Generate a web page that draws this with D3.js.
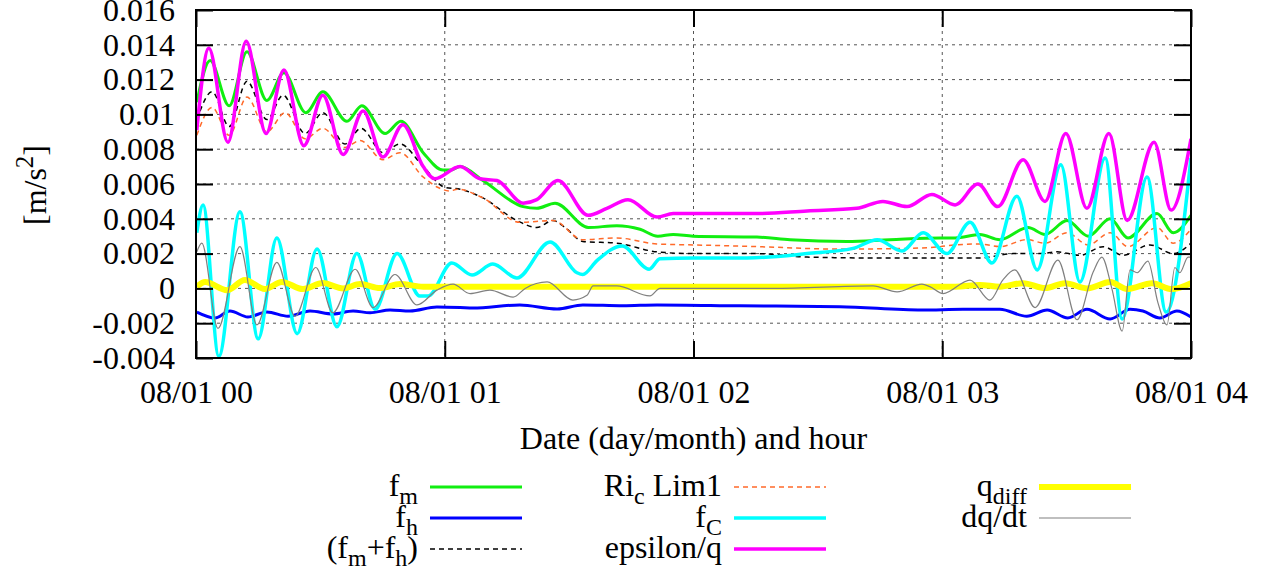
<!DOCTYPE html>
<html>
<head>
<meta charset="utf-8">
<script src="https://cdn.jsdelivr.net/npm/d3@7"></script>
<style>
  body { margin: 0; background: #fff; }
  text { font-family: "Liberation Serif", "Times New Roman", serif; fill: #000; }
</style>
</head>
<body>
<div id="chart"></div>
<script>
// each series: [minutes after 08/01 00:00, value in m/s^2]
var fm = [[0.2,0.0107],[3.4,0.0131],[8.0,0.0105],[12.3,0.0136],[17.1,0.0108],[21.2,0.0124],[26.5,0.0101],[30.6,0.0113],[36.4,0.0096],[40.0,0.0105],[45.6,0.0089],[49.4,0.0096],[54.8,0.0078],[59.6,0.0068],[61.3,0.0068],[63.7,0.0070],[69.2,0.0062],[78.9,0.0047],[82.2,0.0046],[86.6,0.0049],[94.6,0.0035],[101.5,0.0036],[107.1,0.0034],[111.4,0.0030],[115.1,0.0031],[119.9,0.0030],[135.3,0.00295],[143.3,0.0028],[157.0,0.0027],[167.4,0.0028],[179.5,0.0029],[183.1,0.0029],[189.1,0.0031],[193.9,0.0028],[200.7,0.0035],[204.8,0.0031],[210.1,0.0039],[215.2,0.0030],[220.5,0.0040],[224.8,0.0029],[231.8,0.0043],[235.7,0.0032],[240,0.0042]];
var fh = [[0.2,-0.00136],[4.6,-0.0017],[8.2,-0.0013],[12.5,-0.00164],[17.1,-0.00136],[22.2,-0.0016],[27.5,-0.0013],[33.0,-0.00147],[37.9,-0.0013],[42.0,-0.0014],[46.8,-0.00124],[51.6,-0.0013],[58.1,-0.00107],[63.7,-0.0011],[66.8,-0.00113],[78.1,-0.00095],[87.1,-0.00118],[93.3,-0.00095],[103.0,-0.001],[111.2,-0.00095],[131.2,-0.001],[155.3,-0.00105],[175.1,-0.00124],[185.0,-0.0012],[193.9,-0.0012],[200.4,-0.0016],[205.3,-0.00124],[210.3,-0.0017],[214.9,-0.0012],[220.5,-0.00176],[225.3,-0.0012],[228.4,-0.0013],[232.5,-0.0017],[236.6,-0.0013],[240,-0.00164]];
var fmPlusFh = [[0.2,0.0097],[3.9,0.0113],[8.0,0.0093],[12.3,0.0119],[17.1,0.0097],[21.0,0.0111],[26.3,0.0089],[30.6,0.0101],[35.9,0.0083],[39.8,0.0092],[45.1,0.0078],[49.2,0.0083],[54.8,0.0070],[60.1,0.0058],[63.7,0.0057],[69.2,0.0052],[77.4,0.0039],[82.2,0.0035],[86.1,0.0039],[89.0,0.0035],[93.3,0.0027],[101.5,0.0026],[111.2,0.0021],[119.9,0.0020],[135.3,0.0020],[147.4,0.0018],[163.3,0.00175],[179.5,0.00175],[189.1,0.00175],[197.1,0.0020],[203.6,0.0020],[207.7,0.0021],[213.2,0.0019],[218.8,0.0024],[223.6,0.0019],[230.1,0.0025],[235.7,0.0020],[240,0.0026]];
var ricLim1 = [[0.2,0.0088],[3.9,0.0104],[8.0,0.0088],[12.3,0.0110],[17.1,0.0090],[21.5,0.0101],[26.3,0.0086],[30.6,0.0092],[35.9,0.0081],[39.6,0.0085],[45.1,0.0074],[49.2,0.0078],[54.8,0.0064],[58.4,0.0058],[61.3,0.0056],[63.0,0.0057],[69.2,0.0052],[78.1,0.0038],[86.1,0.0039],[93.3,0.0028],[101.5,0.0029],[111.2,0.00255],[119.9,0.0025],[135.3,0.0024],[155.3,0.00226],[171.5,0.0023],[179.5,0.0024],[183.1,0.0025],[189.1,0.00255],[193.9,0.0024],[200.4,0.0028],[204.8,0.0026],[210.1,0.0032],[215.2,0.0025],[220.5,0.0032],[224.8,0.0024],[231.8,0.0035],[235.7,0.0026],[240,0.0034]];
var fC = [[0.2,0.0032],[1.7,0.0048],[5.5,-0.0039],[10.6,0.0044],[15.0,-0.0029],[19.5,0.0029],[24.4,-0.0026],[29.2,0.00226],[34.0,-0.0022],[38.8,0.0020],[43.2,-0.0012],[48.5,0.0020],[54.0,-0.00044],[56.0,-0.00044],[61.7,0.00146],[66.6,0.00077],[71.6,0.0014],[77.4,0.0006],[85.4,0.00267],[91.9,0.0009],[93.3,0.0008],[96.7,0.0016],[102.8,0.00244],[109.3,0.0011],[111.9,0.0017],[119.9,0.00175],[132.9,0.00175],[147.4,0.0020],[158.5,0.0023],[164.3,0.0028],[170.3,0.00215],[175.4,0.0032],[181.1,0.0020],[186.7,0.0038],[192.0,0.00146],[198.0,0.0053],[202.9,0.00106],[208.6,0.0071],[213.2,0.00037],[219.3,0.0075],[223.4,-0.00176],[229.4,0.0064],[234.0,-0.00136],[240,0.0075]];
var epsilonQ = [[0.2,0.0091],[3.1,0.0138],[7.7,0.0084],[12.1,0.0142],[16.9,0.0089],[21.2,0.01255],[26.0,0.0082],[30.6,0.0111],[35.5,0.0077],[40.3,0.0102],[45.1,0.00755],[49.9,0.0094],[54.8,0.0070],[57.6,0.0063],[63.7,0.0070],[68.5,0.0063],[72.6,0.0062],[78.9,0.0049],[82.2,0.0051],[87.3,0.0062],[94.6,0.0042],[99.1,0.0046],[104.2,0.0051],[111.2,0.0041],[115.1,0.0043],[119.9,0.0043],[135.3,0.0043],[147.4,0.00445],[159.4,0.0046],[165.7,0.0050],[171.5,0.0047],[177.5,0.0054],[183.1,0.0048],[188.6,0.0060],[193.4,0.0047],[199.5,0.0074],[204.8,0.0050],[209.8,0.0089],[214.9,0.0046],[220.2,0.0089],[224.6,0.0039],[231.1,0.0084],[235.2,0.0045],[240,0.0086]];
var qDiff = [[0.2,0.0001],[2.2,0.00037],[7.5,-0.0001],[11.8,0.00048],[16.6,-0.00004],[20.7,0.00037],[25.8,-0.00004],[30.6,0.00031],[35.5,0.0],[39.6,0.00025],[44.4,0.00002],[49.2,0.00025],[54.8,0.0001],[63.7,0.0001],[120,0.0001],[177,0.0001],[183.1,0.0001],[189.1,0.0002],[193.9,0.0001],[199.5,0.0003],[204.8,0.00002],[209.6,0.0003],[214.9,0.0],[220.5,0.00037],[224.6,-0.00004],[230.6,0.0003],[235.4,-0.00004],[240,0.0003]];
var dqdt = [[0.2,0.0021],[1.4,0.0026],[5.3,-0.0023],[10.6,0.0024],[14.7,-0.0021],[19.5,0.0015],[23.9,-0.0016],[28.9,0.0012],[33.0,-0.0014],[38.4,0.0011],[42.7,-0.0011],[48.0,0.0008],[53.3,-0.00095],[58.1,-0.0001],[62.0,0.00025],[66.1,-0.0003],[70.9,-0.0001],[76.5,-0.0005],[79.4,0.0],[84.7,0.00037],[90.9,-0.00067],[94.3,-0.0004],[95.8,0.00014],[101.5,0.00014],[109.5,-0.00043],[111.9,0.0],[119.9,0.0],[139.2,0.0],[163.3,0.00014],[169.1,-0.0002],[175.1,0.00025],[177,0.0001],[180.2,-0.0003],[186.7,0.00048],[191.5,-0.00067],[194.6,0.00048],[197.5,0.00106],[202.4,-0.0011],[207.9,0.00163],[212.5,-0.0018],[216.4,0.00094],[218.5,0.0018],[220.9,0.0],[223.4,-0.00245],[225.3,0.00106],[227.0,0.0009],[229.6,0.00157],[232.0,-0.0008],[234.2,-0.0021],[236.1,0.0012],[237.3,0.0009],[239.3,0.0018],[240,0.0018]];

var yTickValues = [-0.004, -0.002, 0, 0.002, 0.004, 0.006, 0.008, 0.01, 0.012, 0.014, 0.016];
var xTickHours = [0, 1, 2, 3, 4];

// legend order, column by column (gnuplot key)
var legendLabels = ["f_m", "f_h", "(f_m+f_h)", "Ri_c Lim1", "f_C", "epsilon/q", "q_diff", "dq/dt"];

var width = 1261, height = 573;
var mL = 196, mR = 1191, mT = 10, mB = 358;

var svg = d3.select("#chart").append("svg")
    .attr("width", width)
    .attr("height", height);

var t0 = new Date(2000, 7, 1, 0, 0);
function toDate(m) { return new Date(t0.getTime() + m * 60000); }

var x = d3.scaleTime().domain([toDate(0), toDate(240)]).range([mL, mR]);
var y = d3.scaleLinear().domain([-0.004, 0.016]).range([mB, mT]);
var xTicks = xTickHours.map(function(h){ return toDate(h * 60); });

// grid
var grid = svg.append("g");
grid.selectAll(".gy").data(yTickValues).enter().append("line")
    .attr("x1", mL).attr("x2", mR)
    .attr("y1", function(d){ return y(d); }).attr("y2", function(d){ return y(d); })
    .style("stroke", "#555").style("stroke-width", 1).style("stroke-dasharray", "3,4");
grid.selectAll(".gx").data(xTicks).enter().append("line")
    .attr("x1", function(d){ return x(d); }).attr("x2", function(d){ return x(d); })
    .attr("y1", mT).attr("y2", mB)
    .style("stroke", "#555").style("stroke-width", 1).style("stroke-dasharray", "3,4");

svg.append("clipPath").attr("id", "plotclip").append("rect")
    .attr("x", mL).attr("y", mT).attr("width", mR - mL).attr("height", mB - mT);

var line = d3.line()
    .x(function(d){ return x(toDate(d[0])); })
    .y(function(d){ return y(d[1]); })
    .curve(d3.curveMonotoneX);

var series = [
    {data: fm, color: "#11ee11", w: 3, dash: null},
    {data: fh, color: "#0000ff", w: 3, dash: null},
    {data: fmPlusFh, color: "#000000", w: 1.5, dash: "5,4"},
    {data: ricLim1, color: "#ff6a2a", w: 1.5, dash: "5,4"},
    {data: fC, color: "#00ffff", w: 3.5, dash: null},
    {data: epsilonQ, color: "#ff00ff", w: 3.5, dash: null},
    {data: qDiff, color: "#ffff00", w: 6, dash: null},
    {data: dqdt, color: "#808080", w: 1.2, dash: null}
];
var plot = svg.append("g").attr("clip-path", "url(#plotclip)");
plot.selectAll("path").data(series).enter().append("path")
    .attr("d", function(d){ return line(d.data); })
    .style("fill", "none")
    .style("stroke", function(d){ return d.color; })
    .style("stroke-width", function(d){ return d.w; })
    .style("stroke-dasharray", function(d){ return d.dash; })
    .style("stroke-linejoin", "round");

// axes with inward ticks
var fmtY = function(d){ return String(+d.toFixed(3)); };
var gl = svg.append("g").attr("transform", "translate(" + mL + ",0)")
    .call(d3.axisLeft(y).tickValues(yTickValues).tickSize(-17).tickPadding(21).tickFormat(fmtY));
var gr = svg.append("g").attr("transform", "translate(" + mR + ",0)")
    .call(d3.axisRight(y).tickValues(yTickValues).tickSize(-17).tickFormat(""));
var gb = svg.append("g").attr("transform", "translate(0," + mB + ")")
    .call(d3.axisBottom(x).tickValues(xTicks).tickSize(-17).tickPadding(22).tickFormat(d3.timeFormat("%m/%d %H")));
var gt = svg.append("g").attr("transform", "translate(0," + mT + ")")
    .call(d3.axisTop(x).tickValues(xTicks).tickSize(-17).tickFormat(""));

[gl, gr, gb, gt].forEach(function(g){
    g.select(".domain").remove();
    g.selectAll(".tick line").style("stroke", "#000").style("stroke-width", 2);
    g.selectAll("text").style("font-family", "'Liberation Serif', serif").style("font-size", "32px").style("fill", "#000");
});

svg.append("rect")
    .attr("x", mL).attr("y", mT).attr("width", mR - mL).attr("height", mB - mT)
    .style("fill", "none").style("stroke", "#000").style("stroke-width", 2);

// axis titles
svg.append("text")
    .attr("x", (mL + mR) / 2).attr("y", 449)
    .style("text-anchor", "middle").style("font-size", "32px")
    .text("Date (day/month) and hour");

var yl = svg.append("text")
    .attr("transform", "translate(46,185) rotate(-90)")
    .style("text-anchor", "middle").style("font-size", "32px");
yl.append("tspan").text("[m/s");
yl.append("tspan").attr("dy", -13).style("font-size", "25px").text("2");
yl.append("tspan").attr("dy", 13).text("]");

// legend text with gnuplot-like subscripts
function addLabel(g, label) {
    var parts = [];
    var s = label.replace("_diff", "_{diff}");
    var tokens = s.split(/(_\{[^}]*\}|_\w)/);
    tokens.forEach(function(tk){
        if (!tk) return;
        if (tk[0] === "_") parts.push({t: tk.replace(/[_{}]/g, ""), sub: true});
        else parts.push({t: tk, sub: false});
    });
    var text = g.append("text").style("text-anchor", "end").style("font-size", "32px");
    var prevSub = false;
    parts.forEach(function(p){
        var ts = text.append("tspan").text(p.t);
        if (p.sub) ts.style("font-size", "24px").attr("dy", prevSub ? 0 : 8);
        else if (prevSub) ts.attr("dy", -8);
        prevSub = p.sub;
    });
    return text;
}

var colX = [418, 722, 1027];
var rowY = [487, 518, 549];
legendLabels.forEach(function(lab, i){
    var col = Math.floor(i / 3), row = i % 3;
    var s = series[i];
    var g = svg.append("g").attr("transform", "translate(" + colX[col] + "," + rowY[row] + ")");
    addLabel(g, lab).attr("x", 0).attr("y", 9);
    g.append("line")
        .attr("x1", 12).attr("x2", 104).attr("y1", 0).attr("y2", 0)
        .style("stroke", s.color)
        .style("stroke-width", s.w)
        .style("stroke-dasharray", s.dash);
});
</script>
</body>
</html>
